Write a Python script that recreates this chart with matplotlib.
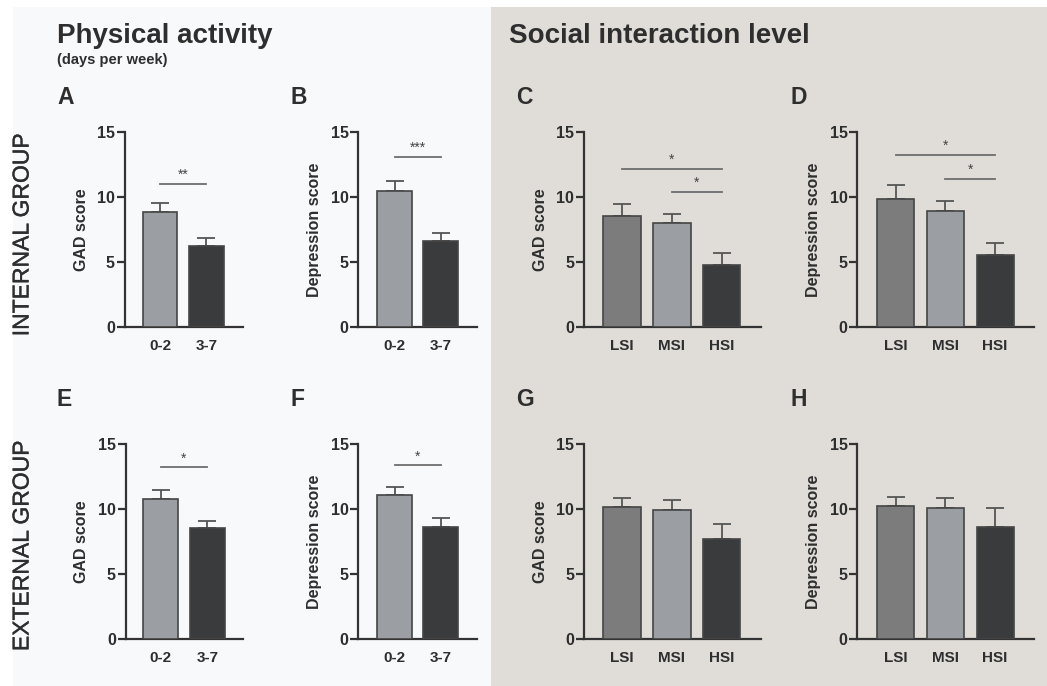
import numpy as np
import matplotlib
matplotlib.use('Agg')
import matplotlib.pyplot as plt
import matplotlib.patheffects as pe
from matplotlib.patches import Rectangle

plt.rcParams['font.family'] = ['Liberation Sans', 'DejaVu Sans']

# 数据
phys_cats = ['0-2', '3-7']
soc_cats = ['LSI', 'MSI', 'HSI']

gad_int_phys = [8.86, 6.26]
gad_int_phys_err = [0.70, 0.61]
dep_int_phys = [10.47, 6.62]
dep_int_phys_err = [0.77, 0.61]
gad_int_soc = [8.55, 8.00, 4.77]
gad_int_soc_err = [0.94, 0.69, 0.92]
dep_int_soc = [9.85, 8.95, 5.56]
dep_int_soc_err = [1.05, 0.72, 0.90]

gad_ext_phys = [10.77, 8.54]
gad_ext_phys_err = [0.66, 0.58]
dep_ext_phys = [11.05, 8.66]
dep_ext_phys_err = [0.67, 0.69]
gad_ext_soc = [10.15, 9.95, 7.69]
gad_ext_soc_err = [0.67, 0.77, 1.20]
dep_ext_soc = [10.23, 10.05, 8.62]
dep_ext_soc_err = [0.72, 0.77, 1.48]

# 显著性标注 (起点, 终点, 高度, 星号)
sig_a = [(0, 1, 11.0, '**')]
sig_b = [(0, 1, 13.1, '***')]
sig_c = [(0, 2, 12.15, '*'), (1, 2, 10.41, '*')]
sig_d = [(0, 2, 13.23, '*'), (1, 2, 11.38, '*')]
sig_e = [(0, 1, 13.2, '*')]
sig_f = [(0, 1, 13.35, '*')]

W, H = 1047, 686
C_LIGHT = '#9b9ea2'
C_DARK = '#3a3b3d'
C_MID = '#7c7c7c'
TXT = '#2e2e2e'

fig = plt.figure(figsize=(W / 100, H / 100), dpi=100)
fig.patch.set_facecolor('white')

# 背景
fig.patches.append(Rectangle((13 / W, 0), (491 - 13) / W, 1 - 7 / H,
                             transform=fig.transFigure, facecolor='#f8f9fb',
                             edgecolor='none', zorder=-10))
fig.patches.append(Rectangle((491 / W, 0), (W - 491) / W, 1 - 7 / H,
                             transform=fig.transFigure, facecolor='#e0dcd8',
                             edgecolor='none', zorder=-10))


def ftext(x, y, s, **kw):
    fig.text(x / W, 1 - y / H, s, color=TXT, **kw)


def panel(left, right, bottom, top, x0, step, barw, cats, vals, errs, colors, ylabel, sig):
    ax = fig.add_axes([left / W, 1 - bottom / H, (right - left) / W, (bottom - top) / H])
    ax.patch.set_alpha(0)
    n = len(cats)
    x = np.arange(n)
    ax.bar(x, vals, width=barw / step, color=colors, edgecolor='#454545',
           linewidth=1.2, zorder=3)
    ax.errorbar(x, vals, yerr=[np.zeros(n), errs], fmt='none', ecolor='#555555',
                elinewidth=1.3, capsize=6.8, capthick=1.3, zorder=2)
    for i, j, h, s in sig:
        ax.plot([i, j], [h, h], color='#6e6e6e', lw=1.3, clip_on=False)
        ax.text((i + j) / 2, h + 0.15, s, ha='center', va='bottom', fontsize=10,
                color='#444444')
    ax.set_xlim((left - x0) / step, (right - x0) / step)
    ax.set_ylim(0, 15)
    ax.set_yticks([0, 5, 10, 15])
    ax.set_xticks(x)
    ax.set_xticklabels(cats)
    for sp in ['top', 'right']:
        ax.spines[sp].set_visible(False)
    for sp in ['left', 'bottom']:
        ax.spines[sp].set_color('#333333')
        ax.spines[sp].set_linewidth(1.6)
    ax.tick_params(axis='y', length=6, width=1.6, color='#333333', pad=1,
                   labelsize=11.5, labelcolor=TXT)
    ax.tick_params(axis='x', length=0, pad=8.5, labelsize=11, labelcolor=TXT)
    for lab in ax.get_xticklabels() + ax.get_yticklabels():
        lab.set_fontweight('bold')
    ax.set_ylabel(ylabel, fontsize=11.5, fontweight='bold', color=TXT)
    ax.yaxis.set_label_coords(-36 / (right - left), 0.5)
    return ax


two = [C_LIGHT, C_DARK]
three = [C_MID, C_LIGHT, C_DARK]

# 上排 (内部组)
panel(124.5, 243, 327, 132, 160, 46.3, 34.7, phys_cats, gad_int_phys, gad_int_phys_err,
      two, 'GAD score', sig_a)
panel(358.3, 477, 327, 132, 394.5, 46.3, 35, phys_cats, dep_int_phys, dep_int_phys_err,
      two, 'Depression score', sig_b)
panel(584, 760.7, 327, 132, 622, 49.75, 37.5, soc_cats, gad_int_soc, gad_int_soc_err,
      three, 'GAD score', sig_c)
panel(857.3, 1033.5, 327, 132, 895.7, 49.65, 37, soc_cats, dep_int_soc, dep_int_soc_err,
      three, 'Depression score', sig_d)

# 下排 (外部组)
panel(125.5, 243, 639.3, 444, 160.8, 46.4, 35, phys_cats, gad_ext_phys, gad_ext_phys_err,
      two, 'GAD score', sig_e)
panel(358.3, 477, 639.3, 444, 394.5, 46.3, 35, phys_cats, dep_ext_phys, dep_ext_phys_err,
      two, 'Depression score', sig_f)
panel(584, 760.7, 639.3, 444, 622, 49.75, 37.5, soc_cats, gad_ext_soc, gad_ext_soc_err,
      three, 'GAD score', [])
panel(857.3, 1033.5, 639.3, 444, 895.7, 49.65, 37, soc_cats, dep_ext_soc, dep_ext_soc_err,
      three, 'Depression score', [])

# 标题
ftext(57, 43, 'Physical activity', fontsize=20, fontweight='bold', va='baseline')
ftext(57, 60, '(days per week)', fontsize=10.5, fontweight='bold', va='center')
ftext(509, 43, 'Social interaction level', fontsize=20, fontweight='bold', va='baseline')

# 子图字母
for lab, x, y in [('A', 57, 97), ('B', 291, 97), ('C', 516, 97), ('D', 790, 97),
                  ('E', 57, 400), ('F', 291, 400), ('G', 516, 400), ('H', 790, 400)]:
    ftext(x, y, lab, fontsize=16.5, fontweight='bold', va='center')

# 行标签
stroke = [pe.withStroke(linewidth=0.25, foreground=TXT)]
ftext(22, 235, 'INTERNAL GROUP', fontsize=16.5, rotation=90, ha='center', va='center',
      path_effects=stroke)
ftext(22, 546, 'EXTERNAL GROUP', fontsize=16.5, rotation=90, ha='center', va='center',
      path_effects=stroke)

plt.savefig('out.png', dpi=100, facecolor=fig.get_facecolor())
